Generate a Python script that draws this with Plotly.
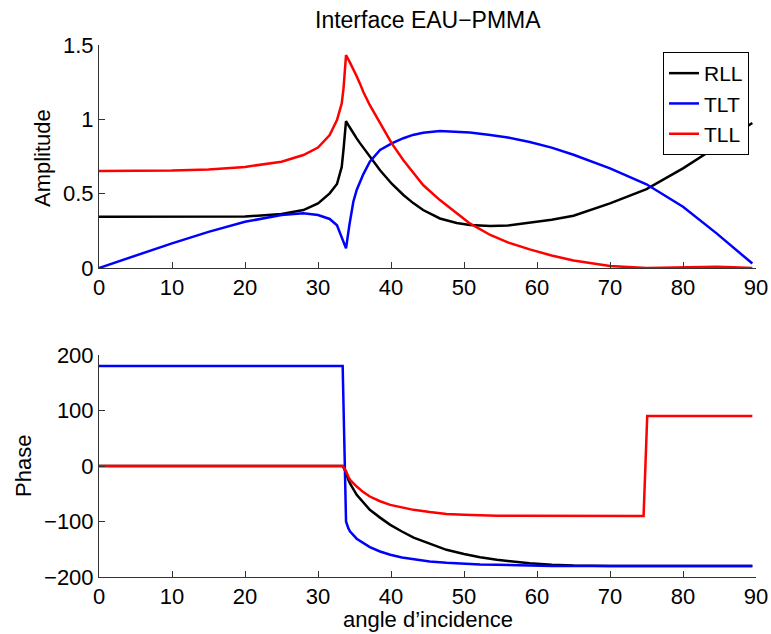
import plotly.graph_objects as go

# ---- Amplitude data ----
amp_angle = [0, 5, 10, 15, 20, 25, 28, 30, 31.6, 32.6, 33.25, 33.5, 33.84, 34.3, 34.84,
             35.3, 35.75, 36.2, 37.1, 38.5, 40.1, 41.7, 43.0, 44.4, 46.7, 49.0, 50.8,
             53.6, 56.0, 59.0, 62.0, 65.0, 70.0, 75.0, 80.0, 84.6, 86.9, 89.5]
amp_rll = [0.345, 0.344, 0.343, 0.343, 0.346, 0.363, 0.39, 0.435, 0.502, 0.565, 0.68, 0.80,
           0.988, 0.95, 0.905, 0.872, 0.84, 0.81, 0.745, 0.657, 0.567, 0.491, 0.438, 0.39,
           0.333, 0.303, 0.289, 0.282, 0.286, 0.303, 0.324, 0.352, 0.435, 0.53, 0.67,
           0.816, 0.894, 0.975]
amp_tlt = [0.0, 0.085, 0.166, 0.243, 0.311, 0.356, 0.368, 0.356, 0.33, 0.287, 0.21, 0.18,
           0.132, 0.289, 0.446, 0.525, 0.58, 0.63, 0.715, 0.794, 0.838, 0.873, 0.895, 0.91,
           0.921, 0.918, 0.912, 0.894, 0.878, 0.848, 0.81, 0.762, 0.67, 0.563, 0.412, 0.233,
           0.14, 0.03]
amp_tll = [0.652, 0.652, 0.655, 0.662, 0.68, 0.715, 0.76, 0.81, 0.894, 0.995, 1.107, 1.21,
           1.432, 1.39, 1.34, 1.29, 1.24, 1.186, 1.095, 0.973, 0.838, 0.725, 0.642, 0.558,
           0.457, 0.368, 0.30, 0.222, 0.172, 0.125, 0.084, 0.05, 0.013, 0.0, 0.006, 0.008,
           0.005, 0.0]

# ---- Phase data ----
ph_angle = [0, 10, 20, 30, 33.38, 33.6, 33.84, 34.15, 34.4, 35.3, 36.2, 37.1, 38.5, 39.9,
            41.5, 43.1, 45.3, 47.6, 50.0, 52.2, 54.5, 56.8, 59.0, 62.0, 65.0, 70.0, 74.6,
            75.1, 80.0, 89.5]
ph_rll = [0, 0, 0, 0, 0, -5, -12, -25, -32, -52, -66, -79, -93, -106,
          -118, -129, -140, -151, -158.5, -164.5, -169, -172.4, -175, -178, -179.5, -180,
          -180, -180, -180, -180]
ph_tlt = [180, 180, 180, 180, 180, 46, -100, -112, -118, -131, -139, -146, -154, -160,
          -165, -168.5, -172, -174.5, -176.6, -177.5, -178, -179, -179.5, -180, -180, -180,
          -180, -180, -180, -180]
ph_tll = [0, 0, 0, 0, 0, -4, -9, -19, -25, -37, -47, -55, -63.5, -70,
          -75, -79, -83, -86.5, -88, -89, -89.5, -89.5, -89.5, -90, -90, -90,
          -90, 90, 90, 90]

names = ["RLL", "TLT", "TLL"]
colors = ["#000000", "#0000ff", "#ff0000"]

FONT = "Liberation Sans, Arial, Helvetica, sans-serif"
FS = 22
LW = 2.5

fig = go.Figure()
for name, col, ys in zip(names, colors, [amp_rll, amp_tlt, amp_tll]):
    fig.add_trace(go.Scatter(x=amp_angle, y=ys, mode="lines", name=name,
                             line=dict(color=col, width=LW), xaxis="x", yaxis="y"))
for name, col, ys in zip(names, colors, [ph_rll, ph_tlt, ph_tll]):
    fig.add_trace(go.Scatter(x=ph_angle, y=ys, mode="lines", name=name, showlegend=False,
                             line=dict(color=col, width=LW), xaxis="x2", yaxis="y2"))

W, H = 771, 634
L, R, T, B = 99, 15, 45, 57
PW = W - L - R
PH = H - T - B
top_bottom = (H - B - 268) / PH
bot_top = (H - B - 355) / PH

axis_common = dict(showgrid=False, zeroline=False, showline=True, linecolor="#333333",
                   linewidth=1, ticks="inside", ticklen=6, tickcolor="#333333",
                   tickfont=dict(family=FONT, size=FS, color="black"), mirror=False,
                   automargin=False)

fig.update_layout(
    width=W, height=H, autosize=False,
    margin=dict(l=L, r=R, t=T, b=B, pad=0),
    paper_bgcolor="white", plot_bgcolor="white",
    font=dict(family=FONT, size=FS, color="black"),
    xaxis=dict(domain=[0, 1], range=[0, 90], tickvals=[0, 10, 20, 30, 40, 50, 60, 70, 80, 90],
               anchor="y", **axis_common),
    yaxis=dict(domain=[top_bottom, 1], range=[0, 1.5], tickvals=[0, 0.5, 1, 1.5],
               ticktext=["0", "0.5", "1", "1.5"], anchor="x", **axis_common),
    xaxis2=dict(domain=[0, 1], range=[0, 90], tickvals=[0, 10, 20, 30, 40, 50, 60, 70, 80, 90],
                anchor="y2", **axis_common),
    yaxis2=dict(domain=[0, bot_top], range=[-200, 200], tickvals=[-200, -100, 0, 100, 200],
                anchor="x2", **axis_common),
    showlegend=True,
    legend=dict(x=(749 - L) / PW, y=(H - B - 52) / PH, xanchor="right", yanchor="top",
                bgcolor="white", bordercolor="black", borderwidth=1,
                font=dict(family=FONT, size=21, color="black"),
                tracegroupgap=0, itemwidth=30),
    annotations=[
        dict(text="Interface EAU−PMMA", xref="paper", yref="paper",
             x=0.5, y=(H - B - 20) / PH, xanchor="center", yanchor="middle",
             showarrow=False, font=dict(family=FONT, size=23, color="black")),
        dict(text="angle d’incidence", xref="paper", yref="paper",
             x=0.5, y=(H - B - 634) / PH, xanchor="center", yanchor="bottom",
             showarrow=False, font=dict(family=FONT, size=FS, color="black")),
        dict(text="Amplitude", xref="paper", yref="paper", textangle=-90,
             x=(43 - L) / PW, y=(H - B - 158) / PH, xanchor="center", yanchor="middle",
             showarrow=False, font=dict(family=FONT, size=FS, color="black")),
        dict(text="Phase", xref="paper", yref="paper", textangle=-90,
             x=(23 - L) / PW, y=(H - B - 466) / PH, xanchor="center", yanchor="middle",
             showarrow=False, font=dict(family=FONT, size=FS, color="black")),
    ],
)

fig.write_html(
    "out.html",
    config={"displayModeBar": False},
    post_script=("document.body.style.margin='0';"
                 "document.body.style.overflow='hidden';"
                 "Plotly.relayout('{plot_id}', {width: 771, height: 634});"),
)
